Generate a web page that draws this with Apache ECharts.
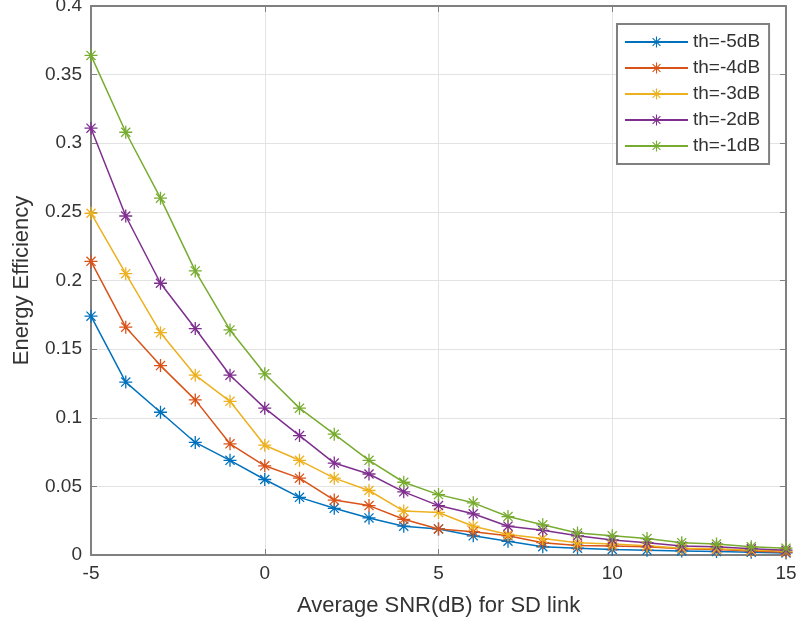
<!DOCTYPE html>
<html>
<head>
<meta charset="utf-8">
<script src="https://cdn.jsdelivr.net/npm/echarts@6/dist/echarts.min.js"></script>
<style>
  html, body { margin: 0; padding: 0; background: #fff; }
  #chart { width: 799px; height: 629px; }
</style>
</head>
<body>
<div id="chart"></div>
<script>
// Average SNR of the SD link (dB)
const snr = [-5, -4, -3, -2, -1, 0, 1, 2, 3, 4, 5, 6, 7, 8, 9, 10, 11, 12, 13, 14, 15];

// Energy efficiency for each detection threshold
const th5 = [0.174, 0.126, 0.104, 0.082, 0.069, 0.055, 0.042, 0.034, 0.027, 0.021, 0.019, 0.014, 0.010, 0.006, 0.005, 0.004, 0.0035, 0.003, 0.0025, 0.002, 0.0015];
const th4 = [0.214, 0.166, 0.138, 0.113, 0.081, 0.065, 0.056, 0.040, 0.036, 0.026, 0.019, 0.017, 0.014, 0.009, 0.007, 0.0065, 0.006, 0.0045, 0.004, 0.003, 0.002];
const th3 = [0.249, 0.205, 0.162, 0.131, 0.112, 0.080, 0.069, 0.056, 0.047, 0.032, 0.031, 0.021, 0.015, 0.012, 0.009, 0.008, 0.0068, 0.005, 0.0045, 0.0035, 0.003];
const th2 = [0.311, 0.247, 0.198, 0.165, 0.131, 0.107, 0.087, 0.067, 0.059, 0.046, 0.036, 0.030, 0.021, 0.018, 0.014, 0.011, 0.009, 0.0065, 0.006, 0.0045, 0.0035];
const th1 = [0.364, 0.308, 0.260, 0.207, 0.164, 0.132, 0.107, 0.088, 0.069, 0.053, 0.044, 0.038, 0.028, 0.022, 0.016, 0.014, 0.012, 0.009, 0.008, 0.006, 0.005];

const seriesNames = ['th=-5dB', 'th=-4dB', 'th=-3dB', 'th=-2dB', 'th=-1dB'];
const seriesValues = [th5, th4, th3, th2, th1];
const colors = ['#0072BD', '#D95319', '#EDB120', '#7E2F8E', '#77AC30'];

// Asterisk marker: vertical, horizontal and two diagonal strokes
const asterisk = 'path://M-1,-10L1,-10L1,10L-1,10Z' +
  'M-10,-1L10,-1L10,1L-10,1Z' +
  'M-7.7,-6.3L-6.3,-7.7L7.7,6.3L6.3,7.7Z' +
  'M-7.7,6.3L6.3,-7.7L7.7,-6.3L-6.3,7.7Z';

const FONT = 'Liberation Sans, Arial, sans-serif';
const TEXT = '#333333';
const FRAME = '#808080';

const chart = echarts.init(document.getElementById('chart'), null, { renderer: 'canvas' });

const series = seriesNames.map((name, i) => ({
  name: name,
  type: 'line',
  xAxisIndex: 0,
  yAxisIndex: 0,
  data: snr.map((x, k) => [x, seriesValues[i][k]]),
  symbol: asterisk,
  symbolSize: 13,
  showSymbol: true,
  animation: false,
  color: colors[i],
  lineStyle: { width: 1.5, color: colors[i] },
  itemStyle: { color: colors[i] },
  emphasis: { disabled: true }
}));

// Top and right axes close the box and carry inward ticks only
const sideAxis = {
  type: 'value',
  axisLine: { show: true, onZero: false, lineStyle: { color: FRAME, width: 2 } },
  axisTick: { show: true, inside: true, length: 6, lineStyle: { color: FRAME } },
  axisLabel: { show: false },
  splitLine: { show: false }
};

chart.setOption({
  backgroundColor: '#ffffff',
  animation: false,
  grid: { left: 91, right: 13, top: 6, bottom: 74, containLabel: false, outerBoundsMode: 'none' },
  legend: {
    data: seriesNames,
    orient: 'vertical',
    left: 617,
    top: 24,
    itemWidth: 63,
    itemHeight: 14,
    itemGap: 6,
    itemTextGap: 3,
    padding: [8, 9, 8, 7],
    backgroundColor: '#ffffff',
    borderColor: FRAME,
    borderWidth: 2,
    textStyle: { fontFamily: FONT, fontSize: 19, color: TEXT, lineHeight: 20 }
  },
  xAxis: [
    {
      type: 'value',
      min: -5,
      max: 15,
      interval: 5,
      position: 'bottom',
      name: 'Average SNR(dB) for SD link',
      nameLocation: 'middle',
      nameGap: 40,
      nameTextStyle: { fontFamily: FONT, fontSize: 22, color: TEXT },
      axisLine: { show: true, onZero: false, lineStyle: { color: FRAME, width: 2 } },
      axisTick: { show: true, inside: true, length: 6, lineStyle: { color: FRAME } },
      axisLabel: { fontFamily: FONT, fontSize: 19, color: TEXT, margin: 9 },
      splitLine: { show: true, lineStyle: { color: '#e3e3e3', width: 1 } }
    },
    Object.assign({ min: -5, max: 15, interval: 5, position: 'top' }, sideAxis)
  ],
  yAxis: [
    {
      type: 'value',
      min: 0,
      max: 0.4,
      interval: 0.05,
      position: 'left',
      name: 'Energy Efficiency',
      nameLocation: 'middle',
      nameGap: 58,
      nameTextStyle: { fontFamily: FONT, fontSize: 22, color: TEXT },
      axisLine: { show: true, onZero: false, lineStyle: { color: FRAME, width: 2 } },
      axisTick: { show: true, inside: true, length: 6, lineStyle: { color: FRAME } },
      axisLabel: { fontFamily: FONT, fontSize: 19, color: TEXT, margin: 9 },
      splitLine: { show: true, lineStyle: { color: '#e3e3e3', width: 1 } }
    },
    Object.assign({ min: 0, max: 0.4, interval: 0.05, position: 'right' }, sideAxis)
  ],
  series: series
});
</script>
</body>
</html>
